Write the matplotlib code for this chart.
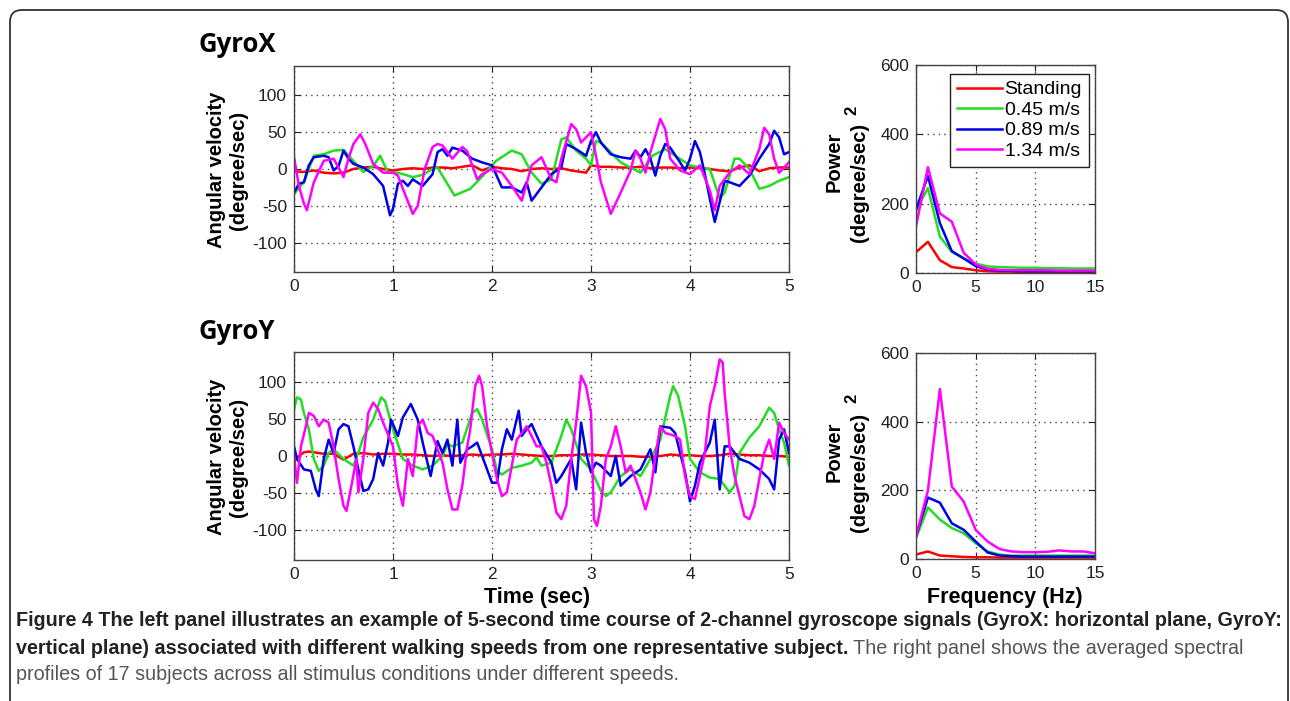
import matplotlib
matplotlib.use("Agg")
import matplotlib.pyplot as plt
from matplotlib.patches import FancyBboxPatch

plt.rcParams['font.family'] = ['Liberation Sans', 'DejaVu Sans']
plt.rcParams['axes.unicode_minus'] = False

W, H = 1290, 701

speeds = ['Standing', '0.45 m/s', '0.89 m/s', '1.34 m/s']
colors = ['#ff0000', '#22dd22', '#0000e6', '#ff00ff']

# GyroX time course (sec, degree/sec)
gx_standing = [(0, -3), (0.1, -4), (0.2, -2), (0.3, -5), (0.4, -6), (0.5, -5), (0.6, 0), (0.7, 2),
               (0.8, 3), (0.9, 0), (1.0, -2), (1.1, 0), (1.2, 1), (1.3, 0), (1.4, 2), (1.5, 2),
               (1.6, 1), (1.7, 3), (1.8, 5), (1.9, -2), (2.0, 3), (2.1, 1), (2.2, 0), (2.3, -3),
               (2.4, 0), (2.5, 1), (2.6, 0), (2.7, 1), (2.8, -2), (2.95, -5), (3.0, 5), (3.1, 3),
               (3.2, 3), (3.3, 2), (3.4, 2), (3.5, 3), (3.6, 1), (3.7, 2), (3.8, 2), (3.9, 1),
               (4.0, 2), (4.1, 1), (4.2, 0), (4.3, -2), (4.4, -3), (4.5, 2), (4.6, 5), (4.7, -3),
               (4.8, 1), (4.9, 2), (5.0, 2)]
gx_slow = [(0, -34), (0.1, -18), (0.2, 18), (0.3, 20), (0.4, 25), (0.5, 26), (0.6, 11), (0.7, -4),
           (0.8, 4), (0.87, 18), (0.95, -5), (1.05, -5), (1.2, -11), (1.3, -8), (1.4, 0), (1.45, 2),
           (1.62, -36), (1.78, -27), (1.91, -9), (2.04, 11), (2.2, 25), (2.3, 20), (2.4, -5),
           (2.5, -20), (2.6, -14), (2.7, 40), (2.75, 43), (2.85, 25), (2.95, 14), (3.0, 5),
           (3.05, 38), (3.1, 36), (3.3, 9), (3.5, -5), (3.62, 18), (3.75, 27), (3.85, 18),
           (4.0, 5), (4.1, 2), (4.2, 0), (4.3, -40), (4.35, -32), (4.45, 14), (4.5, 14), (4.6, 0),
           (4.7, -27), (4.8, -23), (4.9, -16), (5.0, -11)]
gx_mid = [(0, -32), (0.05, -20), (0.1, -18), (0.15, 5), (0.2, 16), (0.3, 18), (0.35, 16), (0.4, -2),
          (0.45, 4), (0.5, 25), (0.55, 14), (0.6, 7), (0.7, 2), (0.8, -7), (0.9, -23), (0.97, -63),
          (1.0, -54), (1.05, -20), (1.1, -16), (1.15, -23), (1.2, -14), (1.3, -23), (1.4, -7),
          (1.45, 23), (1.5, 27), (1.55, 18), (1.6, 29), (1.7, 25), (1.8, 14), (1.9, 9), (2.0, 5),
          (2.1, -25), (2.2, -25), (2.3, -32), (2.35, -18), (2.4, -43), (2.5, -25), (2.6, -7),
          (2.7, 2), (2.75, 34), (2.85, 27), (2.95, 18), (3.0, 38), (3.05, 50), (3.1, 36),
          (3.2, 20), (3.3, 16), (3.4, 14), (3.45, 25), (3.5, 16), (3.55, 27), (3.6, 14),
          (3.65, -9), (3.7, 18), (3.75, 34), (3.8, 29), (3.9, 9), (3.95, -2), (4.0, 14),
          (4.05, 38), (4.1, 23), (4.15, -7), (4.2, -40), (4.25, -72), (4.3, -45), (4.35, -16),
          (4.4, -18), (4.5, -23), (4.6, -9), (4.7, 14), (4.8, 34), (4.85, 52), (4.9, 43),
          (4.95, 20), (5.0, 23)]
gx_fast = [(0, 16), (0.05, -23), (0.1, -47), (0.13, -56), (0.2, -18), (0.3, 11), (0.4, 14),
           (0.45, 2), (0.5, -11), (0.55, 14), (0.6, 34), (0.67, 47), (0.72, 34), (0.8, 7),
           (0.9, -5), (1.0, -5), (1.05, -9), (1.1, -27), (1.2, -61), (1.25, -50), (1.32, 0),
           (1.4, 30), (1.45, 34), (1.5, 32), (1.6, 14), (1.7, 30), (1.75, 24), (1.85, -14),
           (1.9, -7), (2.0, 0), (2.1, -5), (2.2, -23), (2.3, -43), (2.35, -20), (2.4, 5),
           (2.5, 16), (2.6, -14), (2.65, -18), (2.7, 14), (2.8, 61), (2.85, 54), (2.9, 36),
           (3.0, 50), (3.05, 18), (3.1, -18), (3.2, -61), (3.3, -32), (3.4, -2), (3.45, 25),
           (3.5, 14), (3.55, -5), (3.6, 23), (3.7, 68), (3.75, 54), (3.8, 14), (3.9, -2),
           (4.0, -7), (4.1, 5), (4.2, -29), (4.25, -56), (4.3, -23), (4.4, -5), (4.5, 5),
           (4.6, -7), (4.7, 27), (4.75, 56), (4.8, 47), (4.85, 14), (4.9, -5), (5.0, 9)]

# GyroY time course (sec, degree/sec)
gy_standing = [(0, -8), (0.05, 0), (0.1, 5), (0.15, 6), (0.2, 5), (0.3, 3), (0.4, 3), (0.5, -5),
               (0.6, 3), (0.7, 4), (0.8, 2), (0.9, 3), (1.0, 3), (1.1, 2), (1.2, 2), (1.3, 1),
               (1.4, 0), (1.5, 1), (1.6, 0), (1.7, 1), (1.8, 2), (1.9, 1), (2.0, 2), (2.1, 2),
               (2.2, 3), (2.3, 2), (2.4, 1), (2.5, 0), (2.6, 0), (2.7, 1), (2.8, 1), (2.9, 2),
               (3.0, 2), (3.1, 1), (3.2, 0), (3.3, 0), (3.4, 0), (3.5, -1), (3.6, -1), (3.7, 0),
               (3.8, 2), (3.9, 1), (4.0, 1), (4.1, 0), (4.2, 0), (4.3, 1), (4.4, 3), (4.5, 2),
               (4.6, 1), (4.7, 1), (4.8, 0), (4.9, 0), (5.0, -1)]
gy_slow = [(0, 63), (0.03, 79), (0.07, 76), (0.1, 58), (0.15, 36), (0.2, -4), (0.25, -20),
           (0.3, -13), (0.35, 4), (0.4, 9), (0.5, -4), (0.6, -13), (0.65, 4), (0.7, 25), (0.8, 49),
           (0.88, 79), (0.92, 74), (1.0, 36), (1.1, -4), (1.2, -13), (1.3, -18), (1.4, -13),
           (1.5, 0), (1.55, 16), (1.6, 13), (1.7, 18), (1.8, 58), (1.85, 63), (1.9, 49), (2.0, 9),
           (2.05, -20), (2.1, -25), (2.2, -16), (2.3, -13), (2.4, -9), (2.45, -2), (2.5, -13),
           (2.6, -9), (2.7, 27), (2.75, 49), (2.8, 36), (2.9, -4), (3.0, -18), (3.1, -47),
           (3.15, -54), (3.2, -49), (3.3, -27), (3.4, -18), (3.5, -27), (3.6, -4), (3.7, 22),
           (3.8, 81), (3.83, 94), (3.88, 81), (3.95, 40), (4.0, -4), (4.1, -22), (4.2, -29),
           (4.3, -31), (4.4, -49), (4.45, -40), (4.5, 4), (4.6, 25), (4.7, 40), (4.8, 65),
           (4.85, 58), (4.9, 36), (4.95, 18), (5.0, -13)]
gy_mid = [(0, 13), (0.03, -4), (0.1, -18), (0.17, -20), (0.22, -45), (0.25, -54), (0.3, -4),
          (0.35, 22), (0.4, 4), (0.45, 36), (0.5, 43), (0.55, 40), (0.6, 13), (0.65, -18),
          (0.7, -47), (0.75, -45), (0.8, -31), (0.85, 4), (0.9, -13), (0.95, 18), (0.98, 49),
          (1.05, 27), (1.1, 52), (1.18, 70), (1.25, 49), (1.3, 18), (1.38, -27), (1.45, 20),
          (1.5, 4), (1.55, 22), (1.6, -13), (1.65, 49), (1.68, -9), (1.75, 9), (1.8, 13),
          (1.85, 18), (1.9, 0), (2.0, -36), (2.05, -36), (2.1, 9), (2.15, 36), (2.2, 22),
          (2.27, 61), (2.3, 27), (2.35, 36), (2.4, 43), (2.5, 13), (2.6, -9), (2.65, -36),
          (2.7, -27), (2.8, -4), (2.85, -45), (2.9, 45), (2.95, 4), (3.0, -22), (3.05, -9),
          (3.1, -13), (3.2, -27), (3.25, 0), (3.3, -40), (3.4, -27), (3.5, -18), (3.6, 9),
          (3.65, -22), (3.7, 40), (3.8, 38), (3.85, 31), (3.9, 4), (3.95, -22), (4.0, -61),
          (4.05, -40), (4.1, -9), (4.2, 18), (4.25, 49), (4.3, -45), (4.35, 13), (4.4, 13),
          (4.5, -4), (4.6, -9), (4.7, -18), (4.8, -31), (4.85, -45), (4.9, 22), (4.95, 36),
          (5.0, 4)]
gy_fast = [(0, 0), (0.03, -36), (0.07, 13), (0.12, 40), (0.15, 58), (0.2, 54), (0.25, 40),
           (0.3, 49), (0.35, 45), (0.4, 13), (0.45, -31), (0.5, -67), (0.53, -74), (0.58, -40),
           (0.63, -4), (0.65, -49), (0.7, -4), (0.75, 58), (0.8, 72), (0.85, 63), (0.9, 45),
           (1.0, 13), (1.05, -40), (1.1, -67), (1.15, -4), (1.2, -27), (1.25, 40), (1.3, 49),
           (1.35, 31), (1.4, 27), (1.5, -9), (1.55, -45), (1.6, -72), (1.65, -72), (1.7, -40),
           (1.75, 13), (1.78, 36), (1.83, 94), (1.87, 108), (1.9, 94), (1.95, 40), (2.0, 4),
           (2.05, -31), (2.1, -54), (2.15, -49), (2.2, -13), (2.25, 22), (2.3, 31), (2.35, 40),
           (2.4, 27), (2.45, 13), (2.5, 13), (2.55, -9), (2.6, -40), (2.65, -76), (2.7, -85),
           (2.75, -67), (2.8, -4), (2.85, 45), (2.9, 108), (2.95, 94), (3.0, 58), (3.03, -85),
           (3.06, -94), (3.1, -67), (3.15, -4), (3.2, 13), (3.25, 40), (3.3, 13), (3.35, -22),
           (3.4, -13), (3.5, -49), (3.55, -72), (3.6, -49), (3.65, 0), (3.7, 40), (3.75, 31),
           (3.8, 29), (3.85, 27), (3.9, 22), (3.95, -27), (4.0, -54), (4.05, -58), (4.1, -27),
           (4.15, 4), (4.2, 67), (4.25, 94), (4.3, 130), (4.33, 126), (4.35, 85), (4.4, 13),
           (4.45, -27), (4.5, -54), (4.55, -81), (4.6, -85), (4.65, -67), (4.7, -31), (4.75, 4),
           (4.8, 22), (4.85, -4), (4.9, 45), (4.95, 31), (5.0, 22)]

# averaged spectra (Hz, (degree/sec)^2)
freq = [0, 1, 2, 3, 4, 5, 6, 7, 8, 9, 10, 11, 12, 13, 14, 15]
psd_x = [
    [60, 90, 37, 17, 13, 8, 5, 4, 4, 3, 3, 3, 3, 3, 3, 3],
    [180, 245, 105, 61, 42, 27, 19, 17, 16, 15, 15, 14, 14, 13, 13, 13],
    [183, 280, 144, 63, 42, 20, 10, 7, 6, 5, 5, 5, 5, 5, 5, 5],
    [135, 305, 172, 148, 58, 25, 12, 9, 8, 8, 8, 8, 7, 7, 7, 7],
]
psd_y = [
    [13, 22, 10, 8, 6, 5, 5, 4, 4, 4, 4, 4, 4, 4, 4, 4],
    [61, 150, 115, 90, 75, 46, 22, 13, 10, 10, 10, 10, 10, 10, 10, 10],
    [66, 179, 164, 104, 85, 51, 19, 10, 8, 7, 7, 7, 7, 7, 7, 7],
    [65, 200, 495, 211, 167, 85, 51, 29, 22, 20, 20, 21, 25, 22, 22, 17],
]


def px(x, y):
    return x / W, 1 - y / H


def rect(left, top, right, bottom):
    return [left / W, 1 - bottom / H, (right - left) / W, (bottom - top) / H]


def style_axes(ax):
    ax.tick_params(direction='in', length=4, width=0.8, labelsize=12.5, pad=5,
                   top=True, right=True, colors='#222222')
    ax.grid(True, linestyle=(0, (1, 3)), color='#444444', linewidth=1.0)
    for s in ax.spines.values():
        s.set_color('#444444')
        s.set_linewidth(1.0)


fig = plt.figure(figsize=(W / 100, H / 100), dpi=100)

# rounded frame around the figure box
frame = FancyBboxPatch((10, -40), 1278, H - 10 + 40, boxstyle='round,pad=0,rounding_size=12',
                       transform=None, fill=False, edgecolor='#333333', linewidth=1.3)
fig.patches.append(frame)

ax_tx = fig.add_axes(rect(294, 66, 789, 272))
ax_ty = fig.add_axes(rect(294, 352, 789, 560))
ax_fx = fig.add_axes(rect(916, 65, 1095, 273))
ax_fy = fig.add_axes(rect(916, 353, 1095, 559))

for ax, series in [(ax_tx, [gx_standing, gx_slow, gx_mid, gx_fast]),
                   (ax_ty, [gy_standing, gy_slow, gy_mid, gy_fast])]:
    for data, c in zip(series, colors):
        t = [p[0] for p in data]
        v = [p[1] for p in data]
        ax.plot(t, v, color=c, linewidth=1.8)
    ax.set_xlim(0, 5)
    ax.set_ylim(-140, 140)
    ax.set_xticks([0, 1, 2, 3, 4, 5])
    ax.set_yticks([-100, -50, 0, 50, 100])
    style_axes(ax)

for ax, spectra in [(ax_fx, psd_x), (ax_fy, psd_y)]:
    for vals, c, lab in zip(spectra, colors, speeds):
        ax.plot(freq, vals, color=c, linewidth=1.8, label=lab)
    ax.set_xlim(0, 15)
    ax.set_ylim(0, 600)
    ax.set_xticks([0, 5, 10, 15])
    ax.set_yticks([0, 200, 400, 600])
    style_axes(ax)

leg = ax_fx.legend(loc='upper right', bbox_to_anchor=(0.966, 0.957), fontsize=14,
                   handlelength=2.3, handletextpad=0.15, labelspacing=0.15, borderpad=0.35,
                   borderaxespad=0, fancybox=False, framealpha=1, edgecolor='#222222')
leg.get_frame().set_linewidth(1.0)

# panel titles
fig.text(*px(198, 44), 'GyroX', fontsize=18.5, fontweight='bold', family=['Open Sans', 'DejaVu Sans'],
         ha='left', va='center')
fig.text(*px(198, 331), 'GyroY', fontsize=18.5, fontweight='bold', family=['Open Sans', 'DejaVu Sans'],
         ha='left', va='center')

# axis labels
for yc in (170, 457):
    fig.text(*px(216, yc), 'Angular velocity', rotation=90, fontsize=14.5, fontweight='bold',
             ha='center', va='center')
    fig.text(*px(238, yc), '(degree/sec)', rotation=90, fontsize=14.5, fontweight='bold',
             ha='center', va='center')
for yc, y2 in ((170, 110), (460, 398)):
    fig.text(*px(834, yc - 8), 'Power', rotation=90, fontsize=14.5, fontweight='bold',
             ha='center', va='center')
    fig.text(*px(860, yc + 12), '(degree/sec)', rotation=90, fontsize=14.5, fontweight='bold',
             ha='center', va='center')
    fig.text(*px(852, y2), '2', rotation=90, fontsize=12, fontweight='bold',
             ha='center', va='center')

fig.text(*px(537, 598), 'Time (sec)', fontsize=15.5, fontweight='bold', ha='center', va='center')
fig.text(*px(1005, 598), 'Frequency (Hz)', fontsize=15.5, fontweight='bold', ha='center', va='center')

# caption
cap_font = ['Liberation Sans Narrow', 'Liberation Sans', 'DejaVu Sans']
line1 = ('Figure 4 The left panel illustrates an example of 5-second time course of 2-channel '
         'gyroscope signals (GyroX: horizontal plane, GyroY:')
line2a = ('vertical plane) associated with different walking speeds from one representative '
          'subject.')
line2b = ' The right panel shows the averaged spectral'
line3 = 'profiles of 17 subjects across all stimulus conditions under different speeds.'

cap_size = 13
t1 = fig.text(*px(16, 621), line1, fontsize=cap_size, fontweight='bold', family=cap_font,
              color='#222222', ha='left', va='center')
fig.canvas.draw()
r = fig.canvas.get_renderer()
w1 = t1.get_window_extent(r).width
cap_size = cap_size * 1260 / w1
t1.set_fontsize(cap_size)

t2 = fig.text(*px(16, 649), line2a, fontsize=cap_size, fontweight='bold', family=cap_font,
              color='#222222', ha='left', va='center')
fig.canvas.draw()
bb = t2.get_window_extent(r)
fig.text(bb.x1 / W, 1 - 649 / H, line2b, fontsize=cap_size, family=cap_font,
         color='#555555', ha='left', va='center')
fig.text(*px(16, 675), line3, fontsize=cap_size, family=cap_font,
         color='#555555', ha='left', va='center')

fig.savefig('out.png', dpi=100)
